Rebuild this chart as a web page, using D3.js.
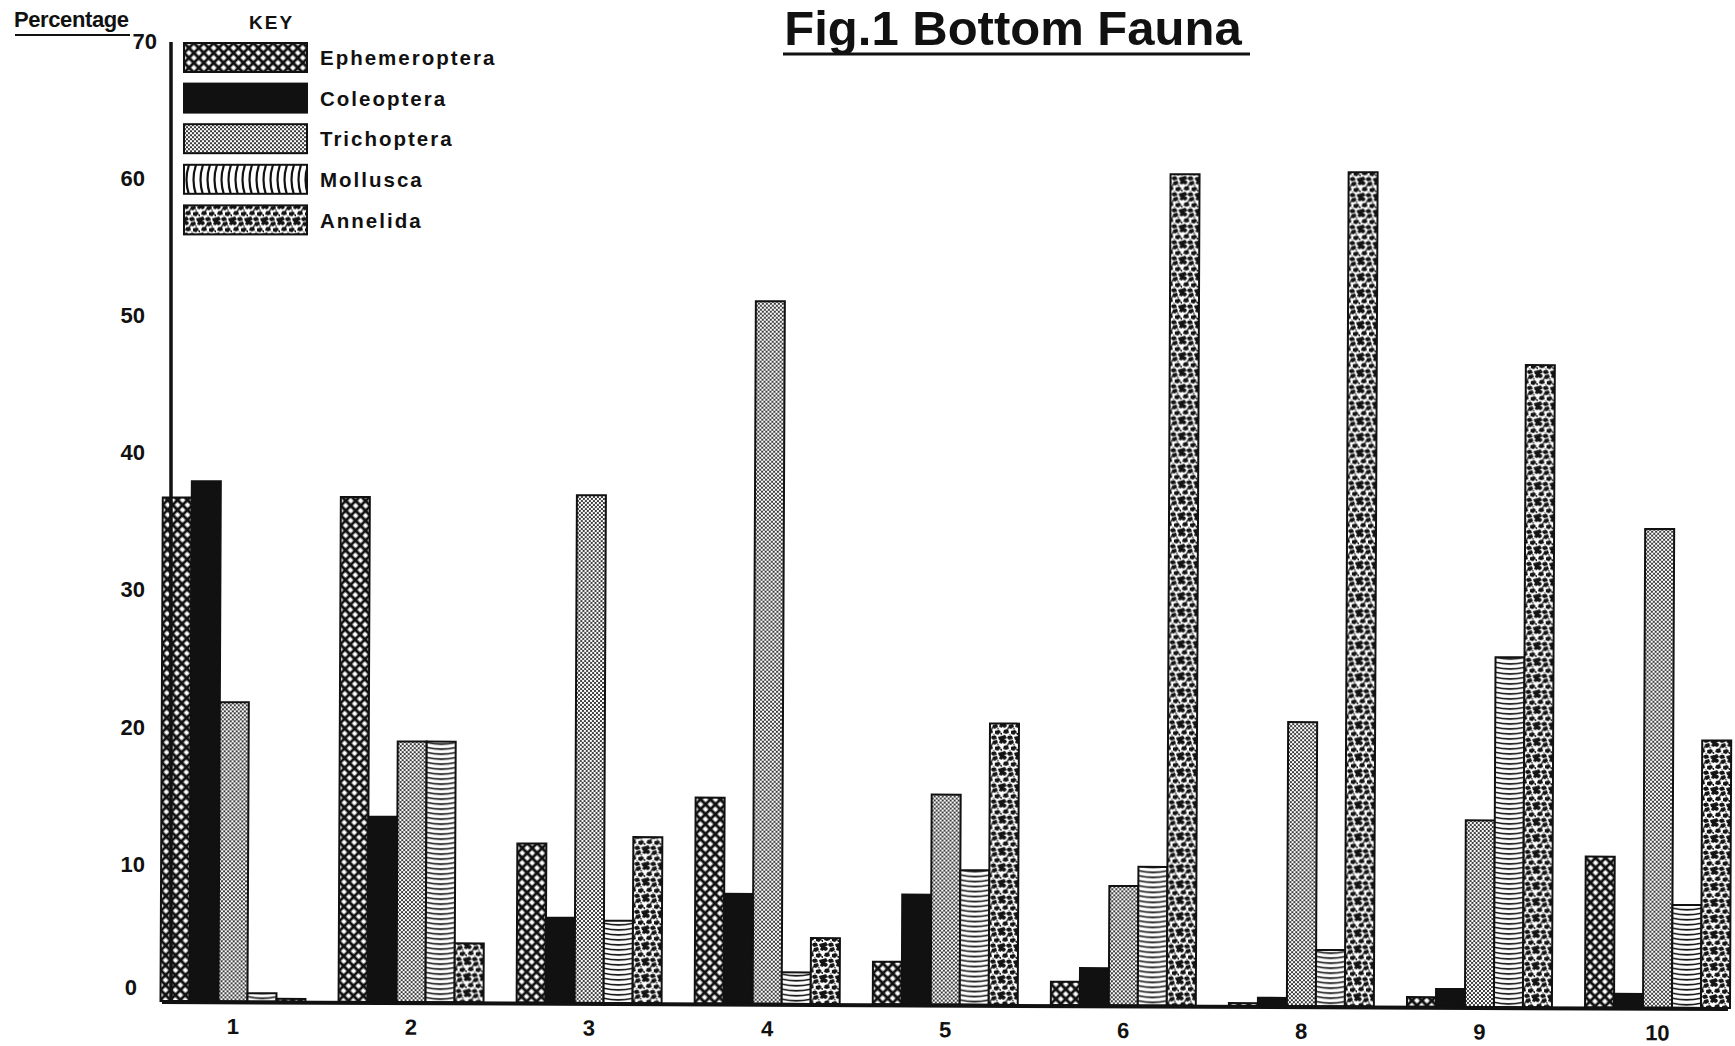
<!DOCTYPE html>
<html lang="en">
<head>
  <meta charset="UTF-8">
  <title>Fig.1 Bottom Fauna</title>
  <script src="https://d3js.org/d3.v7.min.js"></script>
  <style>
  body{ margin:0; background:#fff; }
  text{ fill:#111; font-family:"Liberation Sans", Arial, sans-serif; }
  .bar{ stroke:#111; stroke-width:2; }
  .tick line, .domain{ display:none; }
  </style>
</head>
<body>
  <div class="container"></div>
  <script>
  var sites = ["1","2","3","4","5","6","8","9","10"];
  var groups = ["Ephemeroptera","Coleoptera","Trichoptera","Mollusca","Annelida"];
  var ephemeroptera = [36.7, 36.8, 11.6, 15.0, 3.1, 1.7, 0.2, 0.7, 11.0];
  var coleoptera    = [37.9, 13.5, 6.2, 8.0, 8.0, 2.7, 0.6, 1.3, 1.0];
  var trichoptera   = [21.8, 19.0, 37.0, 51.2, 15.3, 8.7, 20.7, 13.6, 34.9];
  var mollusca      = [0.6, 19.0, 6.0, 2.3, 9.8, 10.1, 4.1, 25.5, 7.5];
  var annelida      = [0.2, 4.3, 12.1, 4.8, 20.5, 60.6, 60.8, 46.8, 19.5];
  var yTicks = [0, 10, 20, 30, 40, 50, 60, 70];

  var w = 1735, h = 1046;
  var base = 1001, axisX = 171;
  var series = [ephemeroptera, coleoptera, trichoptera, mollusca, annelida];
  var fills = ["url(#cross)", "#111", "url(#dots)", "url(#waves)", "url(#blobs)"];
  var keyFills = ["url(#cross)", "#111", "url(#dots)", "url(#wavesV)", "url(#blobs)"];

  var svg = d3.select('.container')
      .append('svg')
      .attr('width', w)
      .attr('height', h);

  // hatch patterns
  var defs = svg.append('defs');
  var p = defs.append('pattern').attr('id','cross').attr('patternUnits','userSpaceOnUse')
      .attr('width',7).attr('height',7).attr('patternTransform','rotate(45)');
  p.append('rect').attr('width',7).attr('height',7).attr('fill','#fff');
  p.append('path').attr('d','M0,0H7M0,7H7M0,0V7M7,0V7').attr('stroke','#111').attr('stroke-width',2.8);

  p = defs.append('pattern').attr('id','dots').attr('patternUnits','userSpaceOnUse')
      .attr('width',4).attr('height',4);
  p.append('rect').attr('width',4).attr('height',4).attr('fill','#fff');
  p.append('circle').attr('cx',1).attr('cy',1).attr('r',1.05).attr('fill','#222');
  p.append('circle').attr('cx',3).attr('cy',3).attr('r',1.05).attr('fill','#222');

  p = defs.append('pattern').attr('id','waves').attr('patternUnits','userSpaceOnUse')
      .attr('width',29).attr('height',5);
  p.append('rect').attr('width',29).attr('height',5).attr('fill','#fff');
  p.append('path').attr('d','M0,1.2 Q14.5,4.6 29,1.2').attr('fill','none').attr('stroke','#111').attr('stroke-width',1.6);

  p = defs.append('pattern').attr('id','wavesV').attr('patternUnits','userSpaceOnUse')
      .attr('width',7).attr('height',30);
  p.append('rect').attr('width',7).attr('height',30).attr('fill','#fff');
  p.append('path').attr('d','M5,0 Q0,15 5,30').attr('fill','none').attr('stroke','#111').attr('stroke-width',2.2);

  p = defs.append('pattern').attr('id','blobs').attr('patternUnits','userSpaceOnUse')
      .attr('width',16).attr('height',16);
  p.append('rect').attr('width',16).attr('height',16).attr('fill','#fff');
  p.append('path').attr('fill','#141414')
      .attr('d','M0,0L4,0L5,2L3,4L0,3Z M7,1L11,0L12,3L9,5L6,4Z M14,0L16,0L16,4L13,3Z' +
                 'M2,6L6,5L7,9L4,10L1,9Z M9,7L13,6L15,8L12,11L9,10Z M0,12L3,11L5,14L2,16L0,16Z' +
                 'M6,12L10,12L11,15L7,16L5,14Z M12,13L16,12L16,16L13,16Z M14,9L16,9L16,11L15,11Z' +
                 'M5,3.5L7,4.5L6,6Z M11,3.8L13,4.5L12,6Z M7,10L9,11L8,12Z');

  var x0 = d3.scaleBand()
      .domain(sites)
      .range([160.5, 1730])
      .paddingInner(0.186)
      .paddingOuter(0);
  var x1 = d3.scaleBand()
      .domain(groups)
      .range([0, x0.bandwidth()]);
  var y = d3.scaleLinear()
      .domain([0, 70])
      .range([base, base - 70 * 13.72]);

  // the scan is slightly tilted, so the plot is rotated a touch
  var plot = svg.append('g')
      .attr('transform','rotate(0.26,162,' + base + ')');

  var site = plot.selectAll('g.site')
      .data(sites)
      .enter().append('g')
      .attr('class','site')
      .attr('transform', function(d){ return 'translate(' + x0(d) + ',0)'; });

  site.selectAll('rect')
      .data(function(d, i){ return groups.map(function(g, k){ return {g: g, k: k, v: series[k][i]}; }); })
      .enter().append('rect')
      .attr('class','bar')
      .attr('x', function(d){ return x1(d.g); })
      .attr('width', x1.bandwidth())
      .attr('y', function(d){ return y(d.v); })
      .attr('height', function(d){ return base - y(d.v); })
      .attr('fill', function(d){ return fills[d.k]; });

  plot.append('line')
      .attr('x1', 162).attr('x2', 1728)
      .attr('y1', base + 1).attr('y2', base + 1)
      .attr('stroke','#111').attr('stroke-width',4);

  var xAxis = d3.axisBottom(x0).tickSize(0).tickPadding(17);
  plot.append('g')
      .attr('transform','translate(0,' + base + ')')
      .call(xAxis)
      .selectAll('text')
      .style('font-size','22px').style('font-weight','bold');

  svg.append('line')
      .attr('x1', axisX).attr('x2', axisX)
      .attr('y1', 42).attr('y2', base)
      .attr('stroke','#111').attr('stroke-width',3.5);

  var yAxis = d3.axisLeft(y).tickValues(yTicks).tickSize(0).tickPadding(26);
  var ya = svg.append('g')
      .attr('transform','translate(' + axisX + ',0)')
      .call(yAxis);
  ya.selectAll('text')
      .style('font-size','22px').style('font-weight','bold')
      .attr('dx', function(d){ return d === 70 ? 12 : (d === 0 ? -8 : 0); })
      .attr('dy', function(d){ return d === 0 ? '-0.28em' : '0.34em'; });

  svg.append('text')
      .attr('x', 14).attr('y', 27)
      .style('font-size','22px').style('font-weight','bold').style('letter-spacing','-0.4px')
      .text('Percentage');
  svg.append('line')
      .attr('x1', 15).attr('x2', 130).attr('y1', 35).attr('y2', 35)
      .attr('stroke','#111').attr('stroke-width',2.2);

  svg.append('text')
      .attr('x', 249).attr('y', 29)
      .style('font-size','19px').style('font-weight','bold').style('letter-spacing','2px')
      .text('KEY');

  var key = svg.selectAll('g.key')
      .data(groups)
      .enter().append('g')
      .attr('class','key')
      .attr('transform', function(d, i){ return 'translate(184,' + (43 + i * 40.6) + ')'; });
  key.append('rect')
      .attr('width', 123).attr('height', 29)
      .attr('fill', function(d, i){ return keyFills[i]; })
      .attr('stroke','#111').attr('stroke-width',2);
  key.append('text')
      .attr('x', 136).attr('y', 15).attr('dy','0.35em')
      .style('font-size','20.5px').style('font-weight','bold').style('letter-spacing','2px')
      .text(function(d){ return d; });

  svg.append('text')
      .attr('x', 1013).attr('y', 45)
      .attr('text-anchor','middle')
      .style('font-size','49px').style('font-weight','bold')
      .text('Fig.1 Bottom Fauna');
  svg.append('line')
      .attr('x1', 783).attr('x2', 1250).attr('y1', 54).attr('y2', 54)
      .attr('stroke','#111').attr('stroke-width',3);
  </script>
</body>
</html>
